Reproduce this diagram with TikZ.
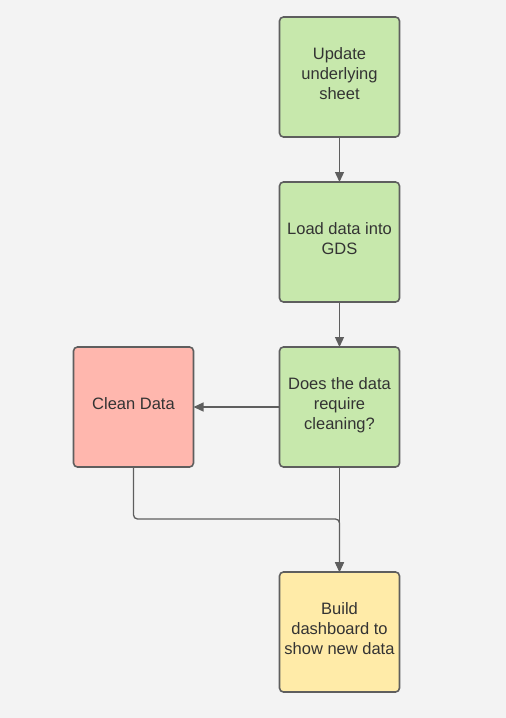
\documentclass[tikz,border=0pt]{standalone}
\usepackage{fontspec}
\setmainfont{Liberation Sans}
\usepackage{tikz}
\usetikzlibrary{arrows.meta,positioning}
\definecolor{pagegray}{HTML}{F3F3F3}
\definecolor{edgegray}{HTML}{5E5E5E}
\definecolor{textgray}{HTML}{333333}
\definecolor{softgreen}{HTML}{C7E8AC}
\definecolor{softred}{HTML}{FFB7AE}
\definecolor{softyellow}{HTML}{FFEBA8}
\newcommand{\liftline}{\\[-14pt]\mbox{}}
\tikzset{
  stepbox/.style={rounded corners=4pt, draw=edgegray, fill=softgreen, line width=1.6pt, align=center, text=textgray, font=\fontsize{16.5}{20}\selectfont, minimum width=120pt, minimum height=120pt, inner sep=0pt, outer sep=0pt},
  cleanbox/.style={stepbox, fill=softred},
  outbox/.style={stepbox, fill=softyellow},
  flow/.style={-{Triangle[length=10pt, width=9pt]}, line width=1.3pt, draw=edgegray}
}
\begin{document}
\begin{tikzpicture}[x=1pt, y=1pt, node distance=45pt]
  \fill[pagegray] (0,0) rectangle (506,-718);
  \useasboundingbox (0,0) rectangle (506,-718);
  \node[stepbox] (update) at (339.5,-77) {Update\\underlying\\sheet\liftline};
  \node[stepbox, below=of update] (load) {Load data into\\GDS\liftline};
  \node[stepbox, below=of load] (check) {Does the data\\require\\cleaning?\liftline};
  \node[cleanbox, left=86pt of check] (clean) {Clean Data\liftline};
  \node[outbox, below=105pt of check] (dash) {Build\\dashboard to\\show new data\liftline};
  \draw[flow] (update) -- (load);
  \draw[flow] (load) -- (check);
  \draw[flow] (check) -- (clean);
  \draw[flow] (check) -- (dash);
  \draw[flow, rounded corners=4pt] (clean.south) -- ++(0,-52) -| (dash.north);
\end{tikzpicture}
\end{document}
